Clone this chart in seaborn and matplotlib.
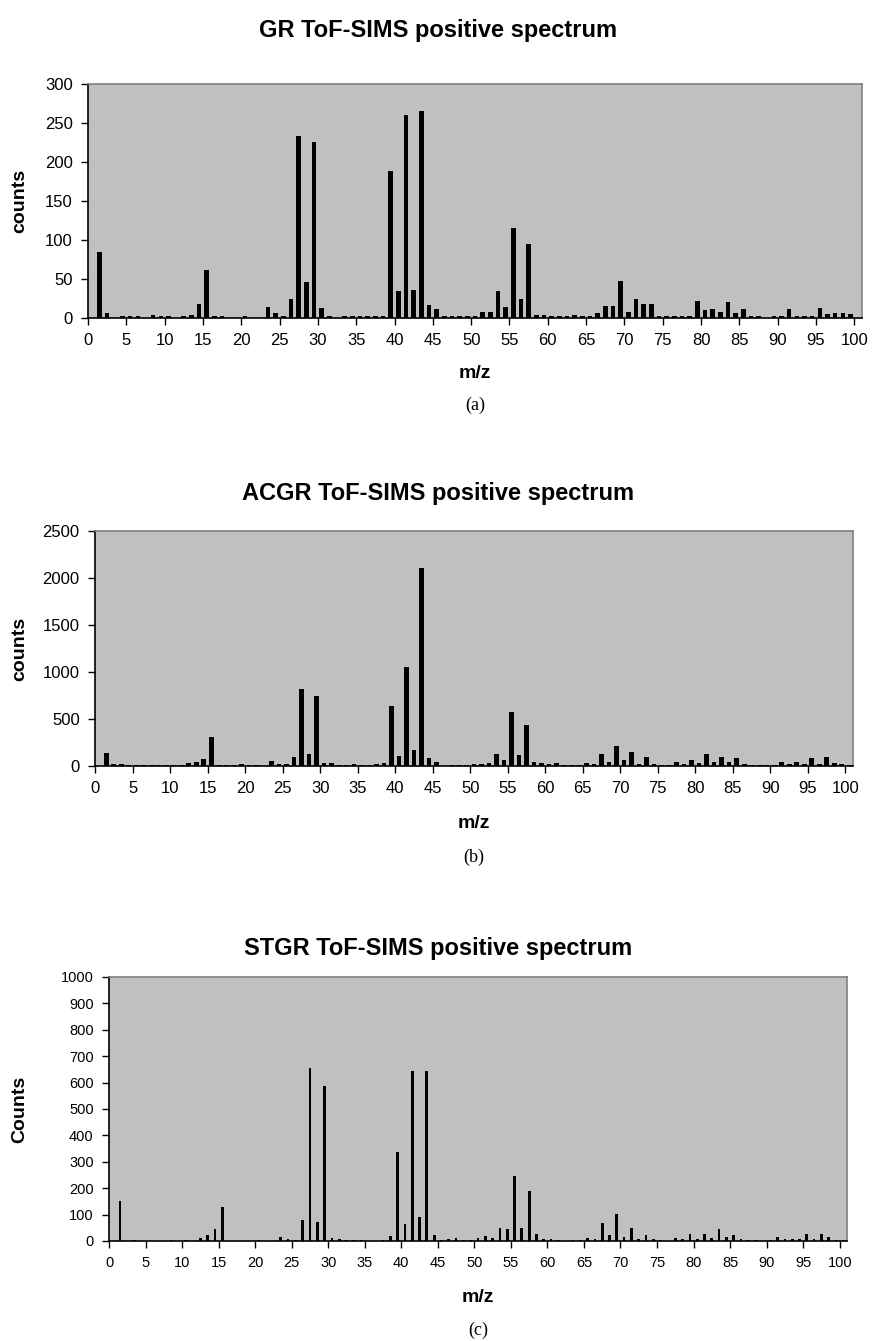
import numpy as np
import pandas as pd
import matplotlib
matplotlib.use("Agg")
import matplotlib.pyplot as plt
import seaborn as sns

sns.set_theme(style="white")
plt.rcParams['font.family'] = ['Liberation Sans', 'DejaVu Sans']
plt.rcParams['text.color'] = 'black'
plt.rcParams['axes.labelcolor'] = 'black'
plt.rcParams['xtick.color'] = 'black'
plt.rcParams['ytick.color'] = 'black'

mz = list(range(0, 101))

# GR counts, m/z 0..100
gr_counts = [
    0, 84, 6, 0, 2, 3, 3, 0, 4, 2,
    3, 0, 3, 4, 18, 62, 3, 2, 0, 0,
    3, 0, 0, 14, 7, 2, 25, 233, 46, 226,
    13, 2, 0, 2, 2.5, 2, 2, 2, 3, 189,
    35, 260, 35.5, 265, 17, 12, 3, 2, 3, 2.5,
    2, 8, 8, 34, 14, 116, 24, 95, 4, 4,
    3, 2, 2, 4, 2, 3, 6, 15, 16, 47,
    8, 25, 18, 18, 3, 3, 2, 3, 2.5, 22,
    10, 12, 8, 21, 6, 12, 3, 2, 0, 2,
    2.5, 11, 3, 3, 2.5, 13, 5, 7, 6, 5,
    0,
]

# ACGR counts, m/z 0..100
acgr_counts = [
    0, 138, 21, 18, 11, 14, 14, 14, 14, 7,
    7, 11, 32, 39, 74, 305, 11, 11, 11, 18,
    7, 11, 5, 50, 18, 18, 92, 816, 131, 748,
    32, 28, 11, 11, 18, 7, 7, 18, 28, 638,
    103, 1050, 170, 2110, 85, 39, 3, 14, 7, 7,
    18, 18, 32, 128, 67, 574, 117, 436, 39, 28,
    18, 32, 11, 11, 7, 32, 18, 131, 46, 213,
    64, 152, 18, 99, 18, 11, 11, 46, 18, 64,
    28, 131, 39, 99, 46, 85, 25, 11, 7, 7,
    11, 46, 18, 46, 18, 89, 21, 92, 28, 18,
    11,
]

# STGR counts, m/z 0..100
stgr_counts = [
    0, 152, 0, 2.5, 0, 0, 0, 0, 2.5, 0,
    2.5, 0, 11, 23, 46, 129, 0, 0, 0, 0,
    4, 0, 0, 16, 6, 5, 79, 654, 73, 586,
    13, 6, 2.5, 5, 2.5, 0, 0, 4, 20, 338,
    63, 644, 90, 644, 23, 5, 6, 10, 2.5, 2.5,
    11, 18, 11, 51, 44, 248, 49, 191, 26, 6,
    9, 5, 0, 5, 2.5, 11, 8, 69, 21, 102,
    16, 49, 9, 23, 6, 5, 0, 11, 9, 28,
    9, 28, 10, 46, 14, 23, 8, 5, 5, 0,
    2.5, 16, 6, 9, 6, 25, 8, 26, 14, 5,
    2.5,
]

titles = ["GR ToF-SIMS positive spectrum",
          "ACGR ToF-SIMS positive spectrum",
          "STGR ToF-SIMS positive spectrum"]
ylabels = ["counts", "counts", "Counts"]
panel_tags = ["(a)", "(b)", "(c)"]
yticks_list = [list(range(0, 301, 50)), list(range(0, 2501, 500)), list(range(0, 1001, 100))]
xtick_values = list(range(0, 101, 5))

W, H = 877, 1341
fig = plt.figure(figsize=(W / 100, H / 100), dpi=100)

# axes boxes in pixels: left, right, top, bottom
boxes = [(88, 862, 84, 318), (95, 853, 531, 766), (109, 847, 977, 1241)]
bar_widths = [0.6, 0.62, 0.37]
title_y = [30, 493, 948]
xlab_y = [374, 824, 1298]
tag_y = [405, 857, 1330]
tick_fs = [12, 12, 10.5]

series = [gr_counts, acgr_counts, stgr_counts]
bg = "#C0C0C0"

for i in range(3):
    l, r, t, b = boxes[i]
    ax = fig.add_axes([l / W, 1 - b / H, (r - l) / W, (b - t) / H])
    df = pd.DataFrame({"mz": mz, "counts": series[i]})
    sns.barplot(data=df, x="mz", y="counts", order=mz, color="black",
                saturation=1, width=bar_widths[i], linewidth=0, ax=ax)
    ax.set_facecolor(bg)
    ax.set_xlim(-0.5, 100.5)
    yt = yticks_list[i]
    ax.set_ylim(0, yt[-1])
    ax.set_yticks(yt)
    ax.set_yticklabels([str(v) for v in yt], fontsize=tick_fs[i])
    ax.set_xticks([v - 0.5 for v in xtick_values])
    ax.set_xticklabels([str(v) for v in xtick_values], fontsize=tick_fs[i])
    ax.set_xlabel("")
    ax.set_ylabel("")
    ax.tick_params(axis="both", direction="out", length=5, width=1, color="black",
                   bottom=True, left=True, pad=6)
    for s in ["left", "bottom"]:
        ax.spines[s].set_color("black")
        ax.spines[s].set_linewidth(1.2)
    for s in ["top", "right"]:
        ax.spines[s].set_color("#808080")
        ax.spines[s].set_linewidth(1.2)
    ax.grid(False)

    fig.text(0.5, 1 - title_y[i] / H, titles[i], ha="center", va="center",
             fontsize=17, fontweight="bold")
    fig.text(20 / W, 1 - ((t + b) / 2) / H, ylabels[i], ha="center", va="center",
             rotation=90, fontsize=14, fontweight="bold")
    fig.text(((l + r) / 2) / W, 1 - xlab_y[i] / H, "m/z", ha="center", va="center",
             fontsize=14, fontweight="bold")
    fig.text(((l + r) / 2) / W, 1 - tag_y[i] / H, panel_tags[i], ha="center", va="center",
             fontsize=13, family=["Liberation Serif", "DejaVu Serif"])

fig.savefig("out.png", dpi=100, facecolor="white")
